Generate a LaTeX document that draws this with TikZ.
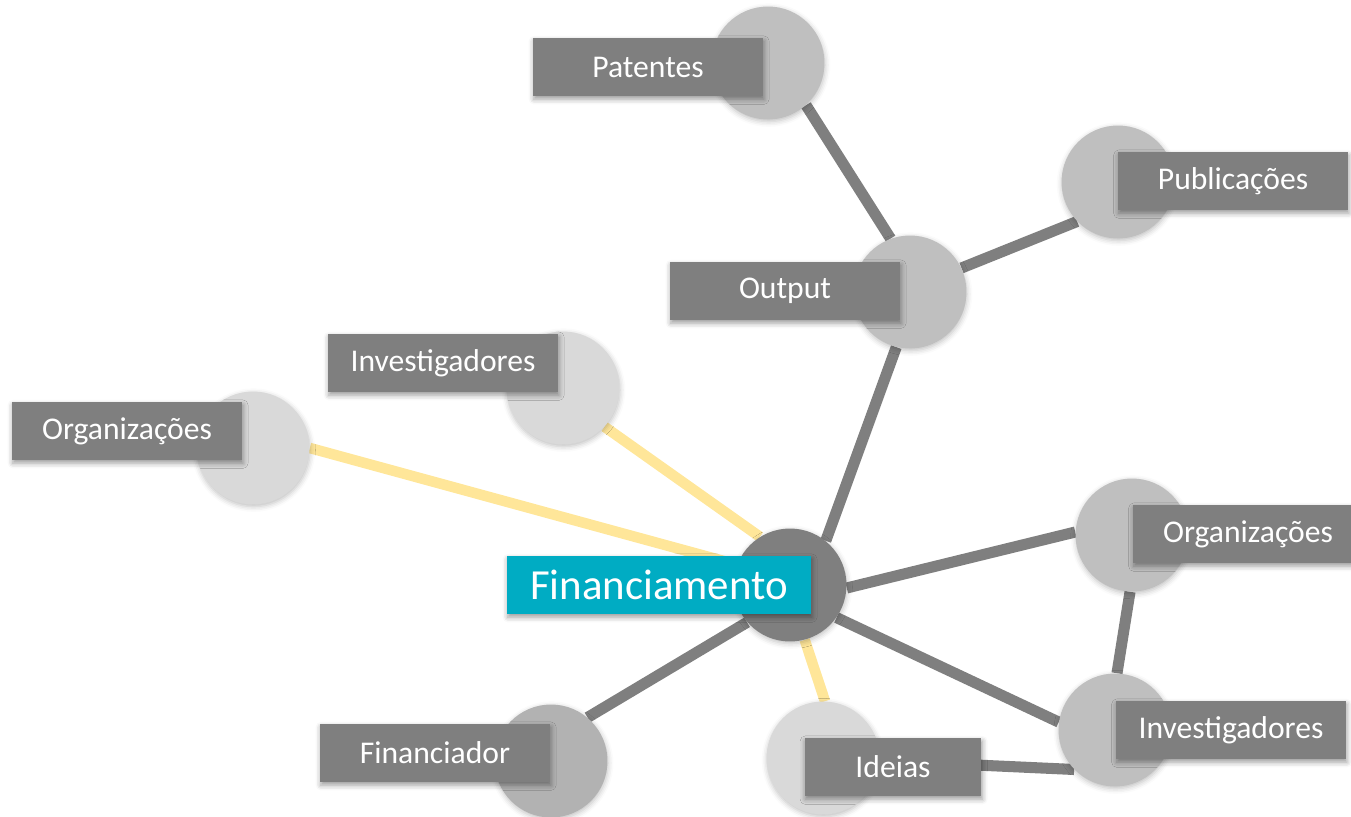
\documentclass[tikz,border=0pt]{standalone}
\usepackage{fontspec}
\setmainfont{Carlito}
\usetikzlibrary{backgrounds,shadows.blur}
\definecolor{tagray}{HTML}{7F7F7F}
\definecolor{midgray}{HTML}{BFBFBF}
\definecolor{palegray}{HTML}{D9D9D9}
\definecolor{darkbub}{HTML}{B2B2B2}
\definecolor{fincolor}{RGB}{0,172,195}
\definecolor{weakline}{HTML}{FFE699}
\begin{document}
\begin{tikzpicture}[x=0.02cm, y=-0.02cm,
    bubble/.style={circle,fill=midgray,minimum size=2.26cm,inner sep=0pt,
      blur shadow={shadow xshift=0.3pt,shadow yshift=-1.2pt,shadow blur radius=3pt,shadow opacity=25}},
    pale/.style={bubble,fill=palegray},
    hub/.style={bubble,fill=tagray},
    tag/.style={rectangle,fill=tagray,text=white,minimum width=4.6cm,minimum height=1.16cm,inner sep=0pt,
      font=\fontsize{18}{20}\selectfont,
      blur shadow={shadow xshift=0.5pt,shadow yshift=-1.8pt,shadow blur radius=3pt,shadow opacity=40}},
    maintag/.style={tag,fill=fincolor,minimum width=6.08cm,font=\fontsize{24.4}{26}\selectfont},
    link/.style={draw=tagray,line width=6.3pt},
    weak/.style={draw=weakline,line width=6pt}]
  \useasboundingbox (0,0) rectangle (1351,817);

  % circles
  \node[hub] (1) at (790,585) {};
  \node[bubble] (2) at (910,292) {};
  \node[bubble] (3) at (768,63) {};
  \node[bubble] (4) at (1118,182) {};
  \node[pale] (5) at (563,388) {};
  \node[pale] (6) at (253,448) {};
  \node[bubble] (7) at (1132,535) {};
  \node[bubble] (8) at (1115,730) {};
  \node[pale] (9) at (823,758) {};
  \node[bubble,fill=darkbub] (10) at (551,761) {};

  % labels
  \node[maintag] (t1) at (659,585) {Financiamento};
  \node[tag] (t2) at (785,291) {Output};
  \node[tag] (t3) at (648,67) {Patentes};
  \node[tag] (t4) at (1233,181) {Publicações};
  \node[tag] (t5) at (443,363) {Investigadores};
  \node[tag] (t6) at (127,431) {Organizações};
  \node[tag] (t7) at (1248,534) {Organizações};
  \node[tag] (t8) at (1231,730) {Investigadores};
  \node[tag,minimum width=3.54cm] (t9) at (893,767) {Ideias};
  \node[tag] (t10) at (435,753) {Financiador};

  \begin{scope}[on background layer]
    \draw[link] (1.51) -- (2.256);
    \draw[link] (2.110) -- (3.312);
    \draw[link] (2.25) -- (4.224);
    \draw[link] (1.357) -- (7.177);
    \draw[link] (1.325) -- (8.172);
    \draw[link] (7.268) -- (8.88);
    \draw[link] (9) -- (8.224);
    \draw[link] (1.221) -- (10.50);
    \draw[weak] (1.285) -- (9.88);
    \draw[weak] (1.122) -- (5.317);
    \draw[weak] (1.159) -- (6.0);
  \end{scope}
\end{tikzpicture}
\end{document}
